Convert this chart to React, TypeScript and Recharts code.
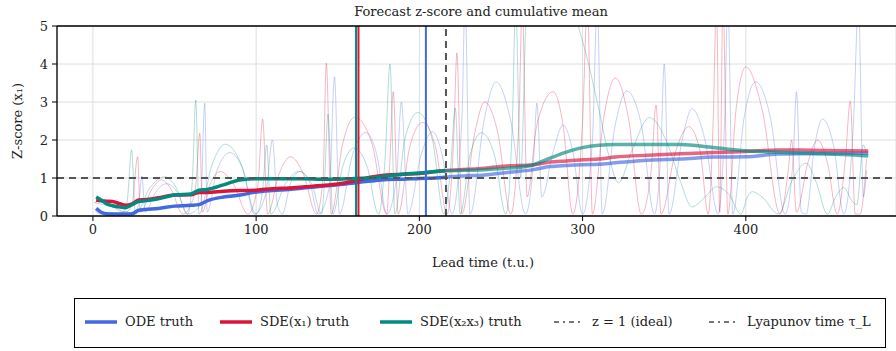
import { CartesianGrid, Line, LineChart, ReferenceLine, XAxis, YAxis } from "recharts";

const FONT = "'DejaVu Serif', serif";
const BLUE = "#4169e1";
const RED = "#dc143c";
const TEAL = "#008b80";
const GREY = "#555555";

// thin lines: instantaneous z-score, [lead time, z]
const odeInst: [number, number][] = [
  [1, 0.15], [5, 0.05], [10, 0.1], [15, 0.05], [20, 0.12], [25, 0.05], [28, 0.3], [30, 1.05], [32, 0.1],
  [38, 0.6], [45, 0.85], [52, 0.6], [58, 0.05], [66, 0.3], [68.5, 2.97], [70, 0.1],
  [76, 1.2], [84, 1.67], [92, 1.2], [99, 0.05], [106, 0.6], [110, 2.0], [113, 0.3], [116, 0.05],
  [121, 0.85], [127, 1.17], [133, 0.85], [138, 0.05], [145, 0.8], [148, 3.66], [151, 0.05],
  [159, 1.6], [167, 2.2], [174, 1.6], [180, 0.05], [186, 1.0], [189, 3.0], [193, 0.05],
  [201, 1.6], [208, 2.22], [214, 1.6], [220, 0.05], [226, 2.5], [228, 5.6], [231, 0.05],
  [240, 2.6], [247, 3.53], [256, 2.5], [265, 0.05], [270, 1.5], [272, 2.97], [275, 0.5],
  [282, 1.7], [288, 2.39], [294, 1.7], [300, 0.05], [306, 2.0], [309, 5.6], [312, 0.05],
  [320, 2.4], [327, 3.29], [336, 2.4], [344, 0.05], [348, 1.8], [350, 4.0], [353, 0.05],
  [361, 2.0], [367, 2.82], [375, 2.0], [383, 0.05], [387, 2.5], [389, 5.6], [392, 0.05],
  [399, 2.6], [406, 3.53], [415, 2.6], [424, 0.05], [429, 1.5], [431, 3.27], [434, 0.1], [437, 0.05],
  [442, 1.8], [447, 2.55], [454, 1.8], [460, 0.05], [466, 2.5], [469, 5.6], [472, 0.5], [474, 1.2],
];

const sdeX1Inst: [number, number][] = [
  [1, 0.35], [5, 0.4], [10, 0.3], [15, 0.2], [20, 0.1], [24, 0.3], [27.4, 1.56], [29, 0.1],
  [36, 0.7], [42, 0.95], [48, 0.7], [55, 0.05], [60, 0.3], [63, 0.8], [65.5, 2.18], [67, 0.1],
  [72, 0.85], [78, 1.17], [86, 0.85], [95, 0.05], [101, 0.8], [104, 2.55], [107, 0.05],
  [114, 1.1], [121, 1.56], [129, 1.1], [137, 0.05], [141, 1.0], [143, 4.02], [146, 0.05],
  [153, 1.9], [160.5, 2.6], [171, 1.9], [180, 0.05], [182, 1.5], [184, 3.27], [187, 0.05],
  [194, 1.8], [202, 2.46], [210, 1.8], [217, 0.05], [221, 2.0], [223, 4.29], [226, 0.05],
  [234, 2.2], [240, 3.0], [248, 2.2], [256, 0.05], [261, 2.5], [263, 5.6], [266, 0.5],
  [272, 2.4], [282, 3.27], [288, 2.4], [294, 0.05], [300, 2.5], [303, 5.6], [306, 0.05],
  [313, 2.6], [320, 3.63], [328, 2.6], [336, 0.05], [342, 1.2], [345, 2.92], [348, 0.05],
  [357, 1.7], [365, 2.35], [372, 1.7], [377, 0.05], [380, 2.5], [382, 5.6], [384, 0.1], [386, 5.6], [389, 0.05],
  [394, 2.8], [400, 3.92], [410, 2.8], [421, 0.05], [426, 1.2], [428, 2.0], [431, 0.1],
  [438, 1.4], [444, 2.0], [450, 1.4], [456, 0.05], [461, 1.5], [464, 3.02], [467, 0.05], [470, 0.05], [474, 1.5],
];

const sdeX23Inst: [number, number][] = [
  [1, 0.35], [6, 0.3], [12, 0.25], [18, 0.1], [21, 0.4], [23.7, 1.74], [26, 0.05],
  [35, 0.75], [44, 1.03], [51, 0.75], [58, 0.05], [61, 1.0], [63, 3.05], [65, 0.05],
  [73, 1.35], [81, 1.89], [91, 1.35], [100, 0.05], [104, 0.7], [106.5, 1.87], [109, 0.05],
  [118, 0.85], [126, 1.17], [134, 0.85], [140, 0.05], [142, 1.0], [144, 2.68], [147, 0.05],
  [153, 1.3], [160, 1.79], [168, 1.3], [175, 0.05], [179, 1.5], [182, 4.0], [185, 0.05],
  [191, 2.0], [199, 2.72], [208, 2.0], [215, 0.05], [219, 1.2], [222, 2.84], [225, 0.05],
  [231, 1.6], [238, 2.19], [246, 1.6], [253, 0.05], [257, 2.5], [259, 5.6], [262, 1.0], [266, 5.6],
  [280, 6.0], [292, 5.6], [300, 4.6], [310, 2.8], [316, 1.6], [322, 0.87],
  [330, 1.7], [341, 2.59], [352, 1.9], [360, 0.9], [367, 0.24], [375, 0.5], [382, 0.77], [390, 0.55], [397, 0.05],
  [401, 0.5], [404, 0.64], [410, 0.5], [420, 0.05], [428, 0.9], [437, 1.39], [443, 0.9], [450, 0.05],
  [455, 0.5], [460, 0.75], [465, 0.4], [468, 0.3], [472, 1.87], [474, 1.6],
];

// thick lines: cumulative mean
const meanT = [2, 5, 8, 12, 16, 20, 24, 28, 32, 40, 50, 60, 65, 70, 80, 90, 100, 110, 120, 130, 140, 150, 160, 170, 180, 190, 200, 210, 216, 225, 240, 255, 270, 280, 290, 300, 310, 320, 340, 360, 380, 400, 420, 440, 460, 475];
const odeMean = [0.2, 0.1, 0.06, 0.05, 0.05, 0.05, 0.06, 0.15, 0.17, 0.2, 0.26, 0.28, 0.3, 0.4, 0.5, 0.55, 0.63, 0.67, 0.7, 0.74, 0.78, 0.82, 0.87, 0.92, 0.96, 0.97, 0.99, 1.0, 1.02, 1.05, 1.08, 1.15, 1.22, 1.3, 1.33, 1.35, 1.36, 1.4, 1.47, 1.5, 1.55, 1.56, 1.63, 1.64, 1.65, 1.65];
const sdeX1Mean = [0.42, 0.4, 0.39, 0.38, 0.33, 0.28, 0.32, 0.42, 0.43, 0.48, 0.55, 0.56, 0.62, 0.62, 0.65, 0.67, 0.68, 0.72, 0.74, 0.77, 0.8, 0.84, 0.92, 1.02, 1.08, 1.1, 1.12, 1.17, 1.2, 1.22, 1.26, 1.32, 1.35, 1.42, 1.45, 1.48, 1.5, 1.55, 1.6, 1.64, 1.67, 1.7, 1.74, 1.73, 1.72, 1.71];
const sdeX23Mean = [0.5, 0.42, 0.33, 0.27, 0.24, 0.22, 0.3, 0.38, 0.4, 0.45, 0.55, 0.58, 0.68, 0.7, 0.82, 0.95, 0.98, 0.98, 0.98, 0.98, 0.97, 0.97, 0.99, 1.0, 1.05, 1.1, 1.13, 1.17, 1.19, 1.2, 1.22, 1.26, 1.35, 1.52, 1.68, 1.8, 1.86, 1.88, 1.88, 1.88, 1.8, 1.72, 1.68, 1.65, 1.62, 1.58];

// vertical markers
const odeCross = 204;
const sdeX1Cross = 162.7;
const sdeX23Cross = 161.2;
const lyapunovTime = 216.3;

const xTicks = [0, 100, 200, 300, 400];
const yTicks = [0, 1, 2, 3, 4, 5];

const toRows = (pts: [number, number][]) => pts.map(([t, z]) => ({ t, z }));
const meanRows = meanT.map((t, i) => ({ t, ode: odeMean[i], sde1: sdeX1Mean[i], sde23: sdeX23Mean[i] }));
const preRows = meanRows.filter((r) => r.t <= 216);
const postRows = meanRows.filter((r) => r.t >= 216);

const tickStyle = { fill: "#222", fontSize: 13, fontFamily: FONT };

function LegendLine({ color, dashed }: { color: string; dashed?: boolean }) {
  return (
    <svg width={32} height={8} style={{ display: "block" }}>
      {dashed ? (
        <line x1={2} y1={4} x2={30} y2={4} stroke="#777" strokeWidth={2} strokeDasharray="5 4 2 4" />
      ) : (
        <line x1={0} y1={4} x2={32} y2={4} stroke={color} strokeWidth={3.5} />
      )}
    </svg>
  );
}

const legendItems = [
  { label: "ODE truth", color: BLUE, x: 84 },
  { label: "SDE(x₁) truth", color: RED, x: 219 },
  { label: "SDE(x₂x₃) truth", color: TEAL, x: 379 },
  { label: "z = 1 (ideal)", color: GREY, x: 551, dashed: true },
  { label: "Lyapunov time τ_L", color: GREY, x: 706, dashed: true },
];

export default function App() {
  return (
    <div style={{ position: "absolute", left: 0, top: 0, width: 896, height: 351, overflow: "hidden", background: "#fff", fontFamily: FONT, color: "#222" }}>
      <LineChart width={896} height={351} margin={{ top: 26, right: 0, left: 0, bottom: 105 }}>
        <CartesianGrid stroke="#dedede" strokeWidth={1} />
        <XAxis
          type="number"
          dataKey="t"
          domain={[-22, 492]}
          ticks={xTicks}
          allowDataOverflow
          height={30}
          tickSize={5}
          tickMargin={4}
          tick={tickStyle}
          axisLine={{ stroke: "#000", strokeWidth: 1.3 }}
          tickLine={{ stroke: "#000" }}
        />
        <YAxis
          type="number"
          domain={[0, 5]}
          ticks={yTicks}
          allowDataOverflow
          width={57}
          tickSize={5}
          tickMargin={4}
          tick={tickStyle}
          axisLine={{ stroke: "#000", strokeWidth: 1.3 }}
          tickLine={{ stroke: "#000" }}
        />
        <Line data={toRows(odeInst)} dataKey="z" type="monotone" stroke={BLUE} strokeOpacity={0.3} strokeWidth={1} dot={false} isAnimationActive={false} />
        <Line data={toRows(sdeX1Inst)} dataKey="z" type="monotone" stroke={RED} strokeOpacity={0.3} strokeWidth={1} dot={false} isAnimationActive={false} />
        <Line data={toRows(sdeX23Inst)} dataKey="z" type="monotone" stroke={TEAL} strokeOpacity={0.3} strokeWidth={1} dot={false} isAnimationActive={false} />
        <Line data={preRows} dataKey="ode" type="monotone" stroke={BLUE} strokeWidth={3.5} dot={false} isAnimationActive={false} />
        <Line data={preRows} dataKey="sde1" type="monotone" stroke={RED} strokeWidth={3.5} dot={false} isAnimationActive={false} />
        <Line data={preRows} dataKey="sde23" type="monotone" stroke={TEAL} strokeWidth={3.5} dot={false} isAnimationActive={false} />
        <Line data={postRows} dataKey="ode" type="monotone" stroke={BLUE} strokeOpacity={0.65} strokeWidth={3.5} dot={false} isAnimationActive={false} />
        <Line data={postRows} dataKey="sde1" type="monotone" stroke={RED} strokeOpacity={0.65} strokeWidth={3.5} dot={false} isAnimationActive={false} />
        <Line data={postRows} dataKey="sde23" type="monotone" stroke={TEAL} strokeOpacity={0.65} strokeWidth={3.5} dot={false} isAnimationActive={false} />
        <ReferenceLine x={sdeX23Cross} stroke={TEAL} strokeWidth={2} />
        <ReferenceLine x={sdeX1Cross} stroke={RED} strokeWidth={2} />
        <ReferenceLine x={odeCross} stroke={BLUE} strokeWidth={2} />
        <ReferenceLine y={1} stroke={GREY} strokeWidth={2} strokeDasharray="7 5" />
        <ReferenceLine x={lyapunovTime} stroke={GREY} strokeWidth={2} strokeDasharray="7 5" />
        <ReferenceLine y={5} stroke="#000" strokeWidth={1.3} />
      </LineChart>

      <div style={{ position: "absolute", left: 381, width: 200, top: 4, textAlign: "center", fontSize: 13, whiteSpace: "nowrap", display: "flex", justifyContent: "center" }}>
        Forecast z-score and cumulative mean
      </div>
      <div style={{ position: "absolute", left: 383, width: 200, top: 255, textAlign: "center", fontSize: 13, whiteSpace: "nowrap", display: "flex", justifyContent: "center" }}>
        Lead time (t.u.)
      </div>
      <div style={{ position: "absolute", left: 17, top: 121, fontSize: 13, whiteSpace: "nowrap", transform: "translate(-50%, -50%) rotate(-90deg)" }}>
        Z-score (x₁)
      </div>

      <div style={{ position: "absolute", left: 74, top: 298, width: 812, height: 50, border: "1.3px solid #000", boxSizing: "border-box" }}>
        {legendItems.map((it) => (
          <div key={it.label} style={{ position: "absolute", left: it.x - 74, top: 15, display: "flex", alignItems: "center", gap: 8, fontSize: 13, whiteSpace: "nowrap" }}>
            <LegendLine color={it.color} dashed={it.dashed} />
            <span>{it.label}</span>
          </div>
        ))}
      </div>
    </div>
  );
}
